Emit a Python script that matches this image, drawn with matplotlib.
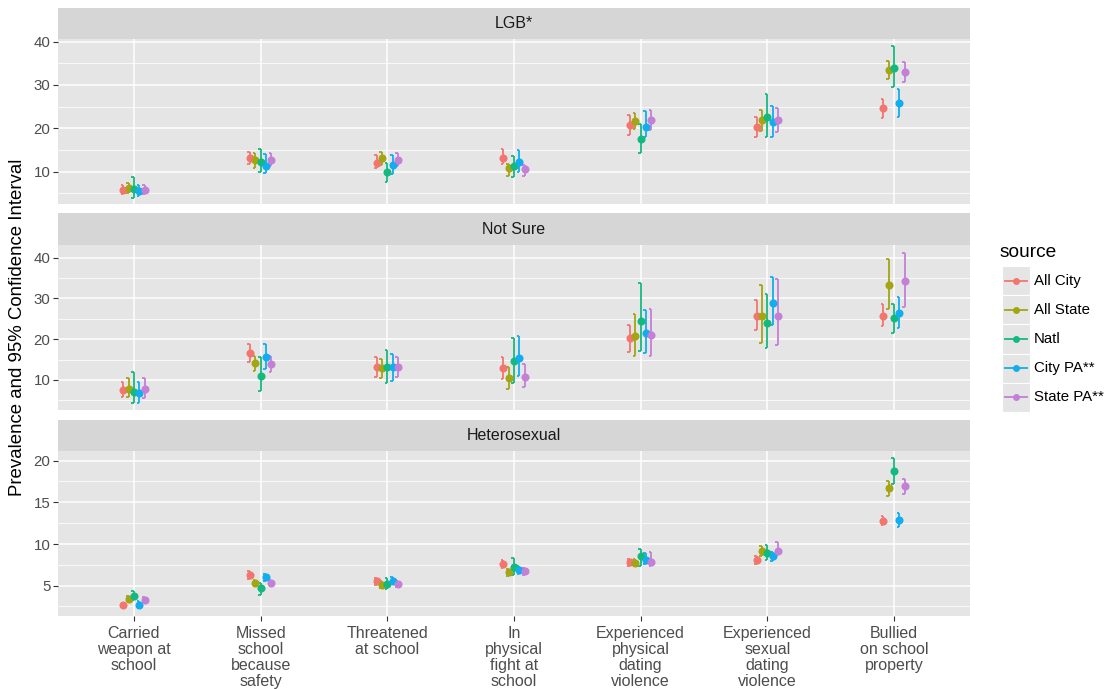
import numpy as np
import matplotlib
matplotlib.use("Agg")
import matplotlib.pyplot as plt
from matplotlib.patches import Rectangle

plt.rcParams["font.family"] = ["Liberation Sans", "DejaVu Sans"]

# behaviour categories on the x axis
categories = [
    "Carried\nweapon at\nschool",
    "Missed\nschool\nbecause\nsafety",
    "Threatened\nat school",
    "In\nphysical\nfight at\nschool",
    "Experienced\nphysical\ndating\nviolence",
    "Experienced\nsexual\ndating\nviolence",
    "Bullied\non school\nproperty",
]
sources = ["All City", "All State", "Natl", "City PA**", "State PA**"]
colors = ["#F2766E", "#A3A512", "#14B97F", "#12ADEE", "#C47FD6"]

# LGB* : one row per source, one value per category
lgb_mid = [
    [5.8, 13.1, 12.1, 13.2, 20.8, 20.4, 24.6],
    [6.2, 12.7, 13.1, 10.8, 21.8, 21.9, 33.5],
    [6.0, 12.3, 10.0, 11.2, 17.5, 22.6, 34.0],
    [5.5, 11.2, 11.5, 12.3, 20.4, 21.5, 25.8],
    [5.8, 12.7, 12.7, 10.6, 21.9, 21.9, 33.1],
]
lgb_low = [
    [4.8, 11.7, 10.8, 11.7, 18.5, 18.1, 22.3],
    [5.0, 10.8, 11.5, 9.0, 19.8, 19.4, 31.3],
    [4.0, 10.0, 7.5, 8.8, 14.4, 17.9, 29.5],
    [4.3, 9.6, 9.5, 10.0, 17.9, 18.1, 22.7],
    [4.8, 11.2, 11.2, 9.1, 19.5, 19.1, 30.6],
]
lgb_high = [
    [7.0, 14.6, 13.9, 15.3, 23.1, 22.7, 26.7],
    [7.4, 14.2, 14.6, 11.7, 23.6, 24.2, 35.6],
    [8.8, 15.2, 12.1, 13.5, 21.0, 27.9, 38.9],
    [7.0, 14.0, 13.9, 15.0, 24.0, 25.2, 29.0],
    [7.0, 14.2, 14.3, 11.6, 24.2, 24.6, 35.4],
]

# Not Sure
ns_mid = [
    [7.6, 16.7, 13.1, 12.9, 20.2, 25.8, 25.8],
    [7.8, 14.1, 13.0, 10.4, 20.8, 25.8, 33.3],
    [7.1, 11.0, 13.1, 14.7, 24.5, 23.9, 25.3],
    [6.9, 15.7, 13.1, 15.5, 21.4, 28.9, 26.5],
    [7.8, 13.8, 13.2, 10.8, 21.0, 25.8, 34.3],
]
ns_low = [
    [5.8, 14.5, 10.8, 10.2, 16.8, 22.3, 23.2],
    [5.9, 12.3, 10.6, 7.7, 16.0, 19.1, 27.3],
    [4.3, 7.4, 9.2, 9.3, 17.2, 17.9, 21.6],
    [4.4, 12.6, 9.8, 11.0, 16.5, 23.5, 22.7],
    [5.5, 12.0, 10.8, 8.2, 16.0, 18.7, 28.0],
]
ns_high = [
    [9.6, 18.8, 15.7, 15.7, 23.6, 29.6, 28.6],
    [10.4, 16.0, 15.1, 13.1, 26.3, 33.3, 39.6],
    [11.9, 15.7, 17.4, 20.2, 33.8, 31.2, 28.6],
    [9.6, 18.8, 16.4, 20.8, 27.2, 35.3, 30.4],
    [10.4, 16.0, 15.6, 13.9, 27.4, 34.7, 41.2],
]

# Heterosexual
het_mid = [
    [2.7, 6.3, 5.5, 7.6, 7.8, 8.1, 12.8],
    [3.4, 5.3, 5.1, 6.6, 7.7, 9.2, 16.7],
    [3.8, 4.7, 5.2, 7.2, 8.5, 8.9, 18.7],
    [2.7, 6.0, 5.6, 6.9, 8.1, 8.6, 12.9],
    [3.3, 5.3, 5.2, 6.7, 7.8, 9.2, 16.9],
]
het_low = [
    [2.5, 5.8, 5.1, 7.1, 7.4, 7.6, 12.3],
    [3.1, 4.9, 4.7, 6.2, 7.3, 8.6, 15.8],
    [3.3, 3.9, 4.6, 6.3, 7.4, 8.1, 17.2],
    [2.3, 5.5, 5.2, 6.4, 7.6, 8.0, 12.0],
    [3.0, 4.9, 4.8, 6.3, 7.3, 8.7, 16.0],
]
het_high = [
    [2.9, 6.7, 5.9, 8.1, 8.2, 8.5, 13.3],
    [3.7, 5.7, 5.5, 7.0, 8.2, 9.8, 17.6],
    [4.4, 5.3, 5.9, 8.3, 9.4, 9.9, 20.3],
    [3.1, 6.4, 6.0, 7.4, 8.9, 9.1, 13.7],
    [3.6, 5.7, 5.6, 7.1, 9.0, 10.2, 17.8],
]

W, H = 1120, 689
fig = plt.figure(figsize=(W / 100, H / 100), dpi=100)
fig.patch.set_facecolor("white")


def px_axes(x0, y0, x1, y1):
    # pixel box (top-left origin) -> figure axes
    return fig.add_axes([x0 / W, 1 - y1 / H, (x1 - x0) / W, (y1 - y0) / H])


panels = [
    ("LGB*", lgb_mid, lgb_low, lgb_high, (8, 39, 204), (2.54, 40.6), [10, 20, 30, 40], [5, 15, 25, 35]),
    ("Not Sure", ns_mid, ns_low, ns_high, (213, 245, 410), (2.64, 43.1), [10, 20, 30, 40], [5, 15, 25, 35]),
    ("Heterosexual", het_mid, het_low, het_high, (420, 451, 616), (1.36, 21.16), [5, 10, 15, 20], [2.5, 7.5, 12.5, 17.5]),
]

x = np.arange(1, len(categories) + 1)
offsets = (np.arange(len(sources)) - 2) * 0.042
cap = 0.022
left, right = 58, 970

for p, (title, mid, low, high, (s0, a0, a1), ylim, major, minor) in enumerate(panels):
    strip = px_axes(left, s0, right, a0)
    strip.set_facecolor("#D6D6D6")
    strip.set_xticks([])
    strip.set_yticks([])
    for sp in strip.spines.values():
        sp.set_visible(False)
    strip.text(0.5, 0.5, title, ha="center", va="center", fontsize=11.5, color="#1A1A1A",
               transform=strip.transAxes)

    ax = px_axes(left, a0, right, a1)
    ax.set_facecolor("#E5E5E5")
    for sp in ax.spines.values():
        sp.set_visible(False)
    ax.set_xlim(0.4, len(categories) + 0.6)
    ax.set_ylim(*ylim)
    ax.set_yticks(major)
    ax.set_yticks(minor, minor=True)
    ax.set_xticks(x)
    ax.grid(which="major", color="white", linewidth=1.1)
    ax.grid(which="minor", axis="y", color="white", linewidth=0.55)
    ax.set_axisbelow(True)
    ax.tick_params(axis="y", which="major", length=3.5, width=0.8, color="#333333",
                   labelsize=10.8, labelcolor="#4D4D4D", pad=2)
    ax.tick_params(axis="y", which="minor", length=0)
    if p == 2:
        ax.tick_params(axis="x", length=3.5, width=0.8, color="#333333", pad=4)
        ax.set_xticklabels(categories, fontsize=11.5, color="#4D4D4D", linespacing=1.08)
    else:
        ax.tick_params(axis="x", length=0, labelbottom=False)

    for i, c in enumerate(colors):
        xs = x + offsets[i]
        ax.vlines(xs, low[i], high[i], color=c, linewidth=1.3, zorder=3)
        ax.hlines(low[i], xs - cap, xs, color=c, linewidth=1.3, zorder=3)
        ax.hlines(high[i], xs - cap, xs, color=c, linewidth=1.3, zorder=3)
        ax.plot(xs, mid[i], "o", color=c, markersize=5.8, markeredgewidth=0, zorder=4)

fig.text(18 / W, 1 - 327 / H, "Prevalence and 95% Confidence Interval", rotation=90,
         ha="center", va="center", fontsize=13.4, color="black")

# legend: grey key boxes with a line and a point
leg = px_axes(1002, 266, 1030, 412)
leg.set_xlim(0, 1)
leg.set_ylim(len(sources), 0)
leg.axis("off")
for i, (name, c) in enumerate(zip(sources, colors)):
    leg.add_patch(Rectangle((0, i), 1, 1, facecolor="#E5E5E5", edgecolor="white", linewidth=0.8))
    leg.plot([0.12, 0.88], [i + 0.5, i + 0.5], color=c, linewidth=1.3)
    leg.plot([0.5], [i + 0.5], "o", color=c, markersize=5, markeredgewidth=0)
    fig.text(1034 / W, 1 - (266 + (i + 0.5) * 29.2) / H, name, ha="left", va="center",
             fontsize=10.8, color="black")
fig.text(1000 / W, 1 - 253 / H, "source", ha="left", va="center", fontsize=13.8, color="black")

fig.savefig("out.png", dpi=100)
